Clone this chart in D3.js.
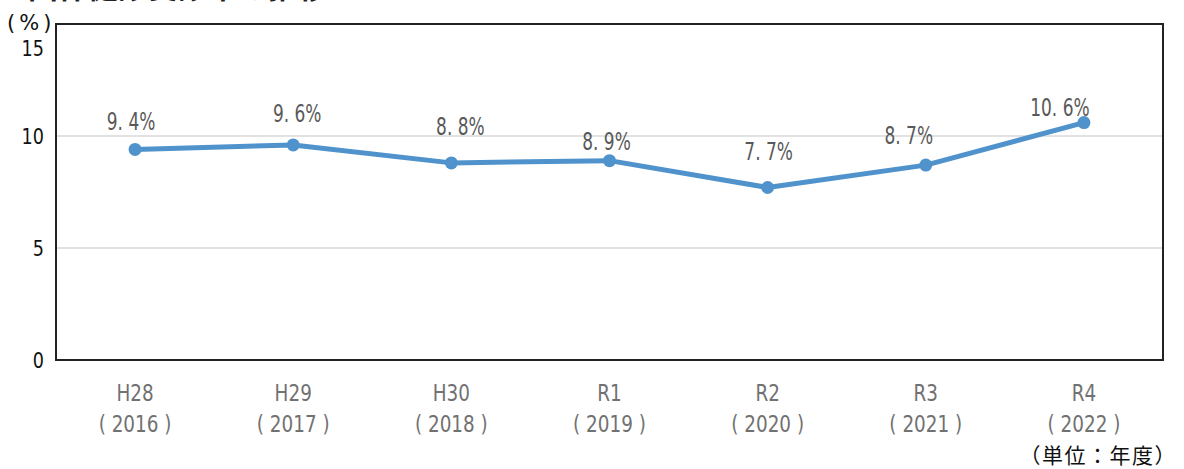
<!DOCTYPE html>
<html>
<head>
<meta charset="utf-8">
<script src="https://cdn.jsdelivr.net/npm/d3@7"></script>
<style>
    body { margin: 0; background: #fff; }
    svg { display: block; }
    .title { font-family: "Noto Sans CJK JP", sans-serif; font-weight: bold; }
    .narrow { font-family: "DejaVu Sans", sans-serif; }
    .cjk { font-family: "Noto Sans CJK JP", sans-serif; }
</style>
</head>
<body>
<div id="chart"></div>
<script>
    'use strict';

    var eras = ['H28', 'H29', 'H30', 'R1', 'R2', 'R3', 'R4'];
    var years = ['2016', '2017', '2018', '2019', '2020', '2021', '2022'];
    var rates = [9.4, 9.6, 8.8, 8.9, 7.7, 8.7, 10.6];
    var yTicks = [0, 5, 10, 15];

    // data labels were hand-placed in the source; offsets from each point (px)
    var labelNudge = [[-4, -19], [4, -23], [9, -28], [-3, -11], [1, -28], [-17, -21], [-24, -7]];

    var data = eras.map(function (e, i) {
        return { era: e, year: years[i], rate: rates[i], nudge: labelNudge[i] };
    });

    // the source uses a condensed face; squeeze DejaVu horizontally instead
    var squeeze = 0.8;

    var W = 1184, H = 469;
    var margin = { top: 24, right: 21, bottom: 109, left: 56 },
        width = W - margin.left - margin.right,
        height = H - margin.top - margin.bottom;

    var svg = d3.select('#chart').append('svg')
        .attr('width', W)
        .attr('height', H);

    // title is cut off by the top edge in the source picture
    svg.append('text')
        .attr('class', 'title')
        .attr('x', 28)
        .attr('y', -2)
        .attr('font-size', 30)
        .attr('fill', '#222')
        .text('国保健診受診率の推移');

    var g = svg.append('g').attr('transform', 'translate(' + margin.left + ',' + margin.top + ')');

    var xScale = d3.scaleBand()
        .domain(eras)
        .range([0, width]);

    var yScale = d3.scaleLinear()
        .domain([0, 15])
        .range([height, 0]);

    var cx = function (d) { return xScale(d.era) + xScale.bandwidth() / 2; };
    var cy = function (d) { return yScale(d.rate); };

    // gridlines
    g.selectAll('.grid')
        .data(yTicks.filter(function (d) { return d > 0 && d < 15; }))
        .enter().append('line')
        .attr('x1', 0).attr('x2', width)
        .attr('y1', function (d) { return yScale(d); })
        .attr('y2', function (d) { return yScale(d); })
        .attr('stroke', '#d9d9d9')
        .attr('stroke-width', 1.5);

    // frame
    g.append('rect')
        .attr('x', 0).attr('y', 0)
        .attr('width', width).attr('height', height)
        .attr('fill', 'none')
        .attr('stroke', '#222')
        .attr('stroke-width', 2);

    // y axis labels (top one pushed down under the unit label)
    var yAxis = d3.axisLeft(yScale).tickValues(yTicks).tickSize(0).tickPadding(12);
    var ya = g.append('g').call(yAxis);
    ya.select('.domain').remove();
    ya.selectAll('text')
        .attr('class', 'narrow')
        .attr('font-size', 22)
        .attr('fill', '#111')
        .attr('transform', 'scale(' + squeeze + ',1)')
        .attr('x', -12 / squeeze)
        .attr('dy', function (d) { return d === 15 ? '1.45em' : '0.36em'; });

    // x axis labels, two lines
    var xa = g.append('g').attr('transform', 'translate(0,' + height + ')');
    var cats = xa.selectAll('.cat')
        .data(data)
        .enter().append('text')
        .attr('class', 'narrow')
        .attr('fill', '#717171')
        .attr('text-anchor', 'middle')
        .attr('font-size', 23)
        .attr('transform', function (d) { return 'translate(' + cx(d) + ',0) scale(' + squeeze + ',1)'; });
    cats.append('tspan').attr('x', 0).attr('y', 41).text(function (d) { return d.era; });
    cats.append('tspan').attr('x', 0).attr('y', 72).text(function (d) { return '( ' + d.year + ' )'; });

    var line = d3.line().x(cx).y(cy);

    g.append('path')
        .datum(data)
        .attr('fill', 'none')
        .attr('stroke', '#5093cc')
        .attr('stroke-width', 5)
        .attr('stroke-linejoin', 'round')
        .attr('d', line);

    g.selectAll('.dot')
        .data(data)
        .enter().append('circle')
        .attr('cx', cx)
        .attr('cy', cy)
        .attr('r', 6.5)
        .attr('fill', '#5093cc');

    g.selectAll('.val')
        .data(data)
        .enter().append('text')
        .attr('class', 'narrow')
        .attr('fill', '#595959')
        .attr('text-anchor', 'middle')
        .attr('font-size', 25)
        .attr('transform', function (d) {
            return 'translate(' + (cx(d) + d.nudge[0]) + ',' + (cy(d) + d.nudge[1]) + ') scale(0.68,1)';
        })
        .text(function (d) { return d.rate.toFixed(1).replace('.', '. ') + '%'; });

    // unit labels
    svg.append('text')
        .attr('class', 'narrow')
        .attr('x', 7).attr('y', 30)
        .attr('font-size', 21)
        .attr('letter-spacing', 4)
        .attr('fill', '#111')
        .text('(%)');

    svg.append('text')
        .attr('class', 'cjk')
        .attr('x', 1177).attr('y', 463)
        .attr('text-anchor', 'end')
        .attr('font-size', 21)
        .attr('letter-spacing', 1.5)
        .attr('fill', '#111')
        .text('（単位：年度）');
</script>
</body>
</html>
